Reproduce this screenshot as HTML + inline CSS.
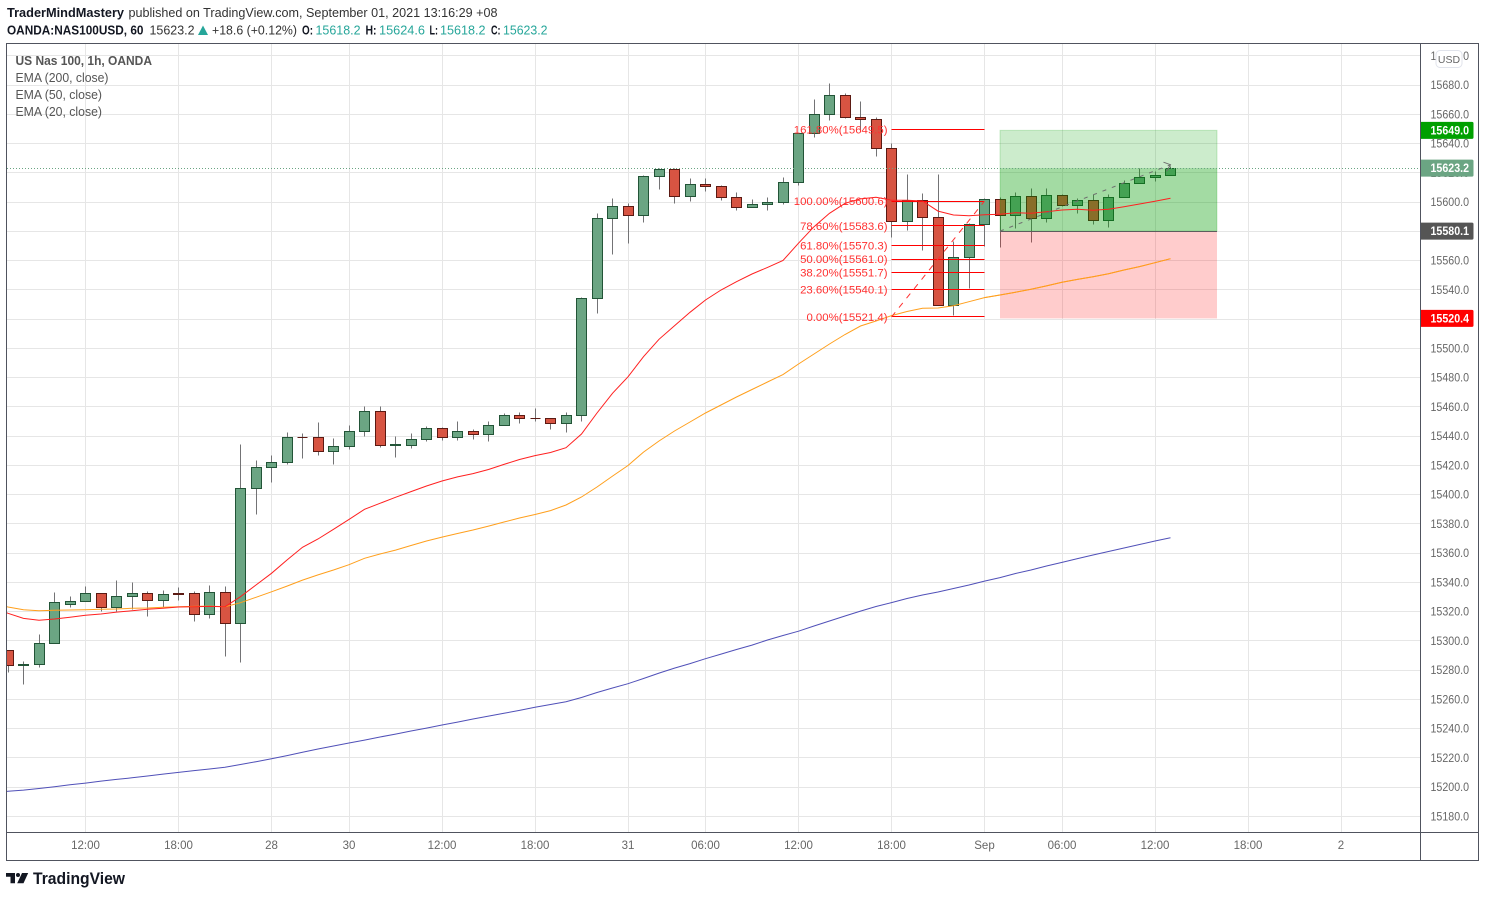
<!DOCTYPE html>
<html lang="en">
<head>
<meta charset="utf-8">
<title>US Nas 100 1h chart</title>
<style>
html,body{margin:0;padding:0;background:#fff;width:1485px;height:897px;overflow:hidden}
svg{display:block;font-family:"Liberation Sans",sans-serif}
</style>
</head>
<body>
<svg id="chart" xmlns="http://www.w3.org/2000/svg" width="1485" height="897" viewBox="0 0 1485 897">
  <defs><clipPath id="pane"><rect x="7" y="44" width="1413" height="788"/></clipPath></defs>
  <rect x="0" y="0" width="1485" height="897" fill="#fff"/>

  <g font-size="13">
    <text x="7" y="17" font-weight="bold" fill="#131722" textLength="117" lengthAdjust="spacingAndGlyphs">TraderMindMastery</text>
    <text x="128.5" y="17" fill="#333" textLength="369" lengthAdjust="spacingAndGlyphs">published on TradingView.com, September 01, 2021 13:16:29 +08</text>
    <text x="7" y="34.5" font-weight="bold" fill="#131722" textLength="136.5" lengthAdjust="spacingAndGlyphs">OANDA:NAS100USD, 60</text>
    <text x="149.5" y="34.5" fill="#333" textLength="45" lengthAdjust="spacingAndGlyphs">15623.2</text>
    <polygon points="198,35 208,35 203,25.5" fill="#26a69a"/>
    <text x="212" y="34.5" fill="#333" textLength="85" lengthAdjust="spacingAndGlyphs">+18.6 (+0.12%)</text>
    <text x="302" y="34.5" font-weight="bold" fill="#131722" textLength="11" lengthAdjust="spacingAndGlyphs">O:</text>
    <text x="315.5" y="34.5" fill="#26a69a" textLength="45" lengthAdjust="spacingAndGlyphs">15618.2</text>
    <text x="365.5" y="34.5" font-weight="bold" fill="#131722" textLength="11" lengthAdjust="spacingAndGlyphs">H:</text>
    <text x="379" y="34.5" fill="#26a69a" textLength="46" lengthAdjust="spacingAndGlyphs">15624.6</text>
    <text x="429.5" y="34.5" font-weight="bold" fill="#131722" textLength="8.5" lengthAdjust="spacingAndGlyphs">L:</text>
    <text x="440" y="34.5" fill="#26a69a" textLength="45.5" lengthAdjust="spacingAndGlyphs">15618.2</text>
    <text x="491" y="34.5" font-weight="bold" fill="#131722" textLength="9.5" lengthAdjust="spacingAndGlyphs">C:</text>
    <text x="503" y="34.5" fill="#26a69a" textLength="44.5" lengthAdjust="spacingAndGlyphs">15623.2</text>
  </g>

  <g id="grid"></g>
  <g id="candles" clip-path="url(#pane)"></g>
  <g id="emas" clip-path="url(#pane)"></g>
  <g id="fib" clip-path="url(#pane)"></g>
  <g id="position" clip-path="url(#pane)"></g>

  <g font-size="12.5" fill="#555">
    <text x="15.5" y="65" font-weight="bold" textLength="136.5" lengthAdjust="spacingAndGlyphs">US Nas 100, 1h, OANDA</text>
    <text x="15.5" y="82" textLength="93" lengthAdjust="spacingAndGlyphs">EMA (200, close)</text>
    <text x="15.5" y="99" textLength="86.5" lengthAdjust="spacingAndGlyphs">EMA (50, close)</text>
    <text x="15.5" y="116" textLength="86.5" lengthAdjust="spacingAndGlyphs">EMA (20, close)</text>
  </g>

  <g fill="none" stroke="#50535e" stroke-width="1" shape-rendering="crispEdges">
    <rect x="6.5" y="43.5" width="1472" height="817"/>
    <line x1="6.5" y1="832.5" x2="1478.5" y2="832.5"/>
    <line x1="1420.5" y1="43.5" x2="1420.5" y2="860.5"/>
  </g>

  <g id="yaxis"></g>
  <g id="xaxis"></g>
  <g id="tags"></g>

  <g>
    <rect x="1436" y="50.5" width="26" height="17" rx="4" fill="#fff" stroke="#e0e3eb"/>
    <text x="1449" y="63" text-anchor="middle" font-size="10.5" fill="#666">USD</text>
  </g>

  <g>
    <path d="M6 873H15V883.2H10.5V876.8H6Z" fill="#131722"/>
    <circle cx="18" cy="875" r="2" fill="#131722"/>
    <polygon points="22,873 28.2,873 23.5,883.2 17.2,883.2" fill="#131722"/>
    <text x="33" y="884" font-size="16.5" font-weight="bold" fill="#131722" textLength="92" lengthAdjust="spacingAndGlyphs">TradingView</text>
  </g>
</svg>

<script>
const opens = [15293,15283.4,15284,15298,15324.5,15327,15332,15323,15330,15332.4,15327.6,15332,15332,15318,15333,15312,15404,15418.6,15422,15439,15439,15429.5,15433,15443.2,15457,15433.6,15433.6,15437.7,15445.3,15439,15443.2,15441.2,15447.3,15454,15452,15452,15448.4,15454,15534.2,15588.9,15597.1,15590.9,15617.6,15622.4,15603.9,15612,15610.7,15603.2,15596.4,15598.4,15599.8,15613.5,15647,15660,15673,15658,15656.6,15636.7,15586.8,15601.2,15589.5,15529.4,15562.2,15584.8,15601.8,15590.9,15603.9,15588.9,15604.6,15597.7,15601.2,15587.5,15603.2,15612.8,15616.9,15618.2];
const highs = [15293.5,15285.5,15304,15333,15330,15337.4,15332,15341.5,15339.5,15334,15334.7,15336.7,15334,15338,15337.4,15434,15423,15427,15442.7,15441.4,15449,15438,15447,15460.5,15460,15440,15442,15446.4,15445.5,15449.6,15444.6,15450.2,15455.7,15456.2,15459,15452.2,15456.2,15535,15592.3,15602.5,15599,15617.8,15622.6,15622.6,15616.4,15616.4,15611.6,15606.8,15601.8,15603.2,15616.6,15647,15670.4,15681.2,15674.5,15669,15658,15640,15619,15605.5,15619,15573,15585,15602.7,15603,15606.8,15608.9,15608.9,15605,15602.5,15604.8,15604.8,15614.8,15622.6,15620.7,15624.6];
const lows = [15278,15270.4,15282,15298,15323,15327,15320,15320,15321.7,15316.4,15322.4,15327.4,15313,15315,15289,15285,15386,15408,15420.4,15424.5,15426.5,15420.4,15430.6,15440,15432,15425,15431.3,15436,15436.8,15436.8,15437.5,15436,15447,15448.4,15449.8,15444.3,15442.2,15449.8,15523.6,15564,15571.5,15585.8,15608.4,15598.8,15600.2,15607,15600.9,15594.1,15596.3,15594.1,15598.6,15611.1,15644,15655.6,15657,15649.2,15631,15576,15580.4,15566.7,15529,15522.3,15541,15569.4,15568.7,15581.7,15572.2,15585.8,15596.6,15592,15584.5,15582.4,15603,15612.8,15613.9,15618.2];
const closes = [15283.4,15284,15297.8,15326,15327,15332,15323,15330.4,15332.4,15327.6,15331.8,15331.6,15318,15333.1,15312,15404.2,15418.6,15422,15439,15438.7,15429.5,15433,15443.2,15457,15433.6,15434,15437.7,15445.3,15439,15443.2,15441.2,15447.3,15454.1,15452,15451.7,15448.4,15454.1,15534.2,15588.9,15597.1,15590.9,15617.6,15622.4,15603.9,15612.1,15610.7,15603.2,15596.4,15598.4,15599.8,15613.5,15647,15660,15673,15657.9,15656.6,15636.7,15586.8,15601.2,15589.5,15529.4,15562.2,15584.8,15601.8,15590.9,15603.9,15588.9,15604.6,15597.7,15601.2,15587.5,15603.2,15612.8,15616.9,15618.3,15623.2];

// EMA arrays begin one hour before the first candle (that point sits left of the pane)
const ema20 = [15323.1,15318.8,15315.3,15314,15314.9,15316,15317.4,15318.3,15319.6,15320.5,15321.5,15322.2,15323.1,15323.3,15323.5,15323.3,15330.1,15338.1,15346.1,15355.2,15363.9,15369.6,15376.2,15383,15389.9,15394,15398.1,15402,15405.8,15409.2,15412,15414.3,15417.1,15420.6,15423.9,15426.6,15428.7,15432,15441.4,15455.7,15469.2,15480.5,15494.2,15506.1,15515.4,15524.6,15533,15539.8,15545.5,15550.8,15555.3,15560,15571.8,15583.1,15592.3,15599.1,15602.1,15603.2,15601.2,15601.2,15600.7,15593.8,15591.1,15590.6,15591.3,15591.6,15592.7,15592.3,15593.4,15594.5,15595,15594.3,15595,15596.8,15598.6,15600.5,15602.5];
const ema50 = [15325.8,15323.1,15321.2,15320.5,15320.8,15321,15321.2,15321.5,15321.7,15322.2,15322.4,15322.9,15323.3,15323.5,15323.7,15323.3,15326,15329.7,15333.5,15337.4,15341.5,15345,15348.4,15352,15356.4,15359.3,15362,15365.1,15368.2,15370.9,15373.3,15375.7,15378.4,15381.2,15383.9,15386.3,15389,15392.8,15398.3,15405.1,15412.6,15419.8,15429,15436.6,15443.4,15449.6,15455.7,15461.2,15466.7,15471.8,15476.9,15482,15489.2,15496.1,15502.9,15509.4,15515.2,15518.6,15522.3,15525.1,15527.3,15527.5,15529.1,15531.8,15534.6,15536.4,15538.3,15540.3,15542.6,15545.1,15547.1,15548.9,15551,15553.5,15555.8,15558.5,15561.2];
const ema200 = [15195.9,15197.1,15197.9,15199,15200.2,15201.5,15202.7,15204,15205.2,15206.3,15207.5,15208.8,15210,15211.2,15212.3,15213.5,15215.4,15217.3,15219.3,15221.5,15223.7,15226,15228,15230.1,15232.1,15234.2,15236.2,15238.3,15240.3,15242.4,15244.4,15246.5,15248.5,15250.4,15252.4,15254.5,15256.4,15258.3,15261.2,15264.6,15267.7,15270.6,15274.2,15277.9,15281.3,15284.4,15287.7,15290.9,15294,15297,15300.5,15303.6,15306.5,15310.1,15313.5,15316.9,15320.3,15323.4,15326.1,15328.9,15331.3,15333.3,15335.7,15338.1,15340.8,15343.2,15346,15348.4,15351.1,15353.6,15356.2,15358.6,15361,15363.4,15365.8,15368.2,15370.4];

const priceTicks = [15180,15200,15220,15240,15260,15280,15300,15320,15340,15360,15380,15400,15420,15440,15460,15480,15500,15520,15540,15560,15580,15600,15620,15640,15660,15680,15700];
const timeLabels = ["12:00","18:00","28","30","12:00","18:00","31","06:00","12:00","18:00","Sep","06:00","12:00","18:00","2"];
const timeBars = [5,11,17,22,28,34,40,45,51,57,63,68,74,80,86];

const fibRatios = ["161.80","100.00","78.60","61.80","50.00","38.20","23.60","0.00"];
const fibPrices = [15649.5,15600.6,15583.6,15570.3,15561.0,15551.7,15540.1,15521.4];
const fibBars = [57,63];

const positionBars = [64,78];
const positionPrices = [15649.0,15580.1,15520.4];
const lastPrice = 15623.2;
const tradePathBars = [64,75];
const tradePathPrices = [15580.1,15625.5];

const tagPrices = [15649.0,15623.2,15580.1,15520.4];
const tagColors = ["#00a000","#6ba583","#555555","#ff0000"];

const NS = "http://www.w3.org/2000/svg";
const xScale = i => 8 + 15.5 * i;
const yScale = v => 202 + (15600 - v) * 1.4625;
const crisp = v => Math.floor(v) + 0.5;

function make(tag, attrs, parent) {
  const el = document.createElementNS(NS, tag);
  for (const k in attrs) el.setAttribute(k, attrs[k]);
  parent.appendChild(el);
  return el;
}

const grid = document.getElementById("grid");
const yaxis = document.getElementById("yaxis");
const xaxis = document.getElementById("xaxis");
const candles = document.getElementById("candles");
const emas = document.getElementById("emas");
const fib = document.getElementById("fib");
const position = document.getElementById("position");
const tags = document.getElementById("tags");

priceTicks.forEach(function (p) {
  const y = crisp(yScale(p));
  const line = make("line", {x1: 7, y1: y, x2: 1420, y2: y, stroke: "#e6e6e6", "shape-rendering": "crispEdges"}, grid);
  
  
  const t = make("text", {x: 1430.5, y: yScale(p) + 4, "font-size": 11.5, fill: "#666", textLength: 38.5, lengthAdjust: "spacingAndGlyphs"}, yaxis);
  t.textContent = p.toFixed(1);
  
  
});

timeBars.forEach(function (b, i) {
  const x = crisp(xScale(b));
  const line = make("line", {x1: x, y1: 44, x2: x, y2: 832, stroke: "#e6e6e6", "shape-rendering": "crispEdges"}, grid);
  
  
  const t = make("text", {x: xScale(b), y: 849, "text-anchor": "middle", "font-size": 11.5, fill: "#666"}, xaxis);
  t.textContent = timeLabels[i];
  
  
});

opens.forEach(function (o, i) {
  const c = closes[i];
  const up = c >= o;
  const x = crisp(xScale(i));
  const wick = make("line", {x1: x, y1: crisp(yScale(highs[i])), x2: x, y2: crisp(yScale(lows[i])), stroke: "#737375", "shape-rendering": "crispEdges"}, candles);
  
  
  const top = crisp(yScale(Math.max(o, c)));
  const bottom = crisp(yScale(Math.min(o, c)));
  const border = up ? "#225437" : "#5b1a13";
  if (bottom - top < 1) {
    const doji = make("line", {x1: x - 5, y1: top, x2: x + 5, y2: top, stroke: border, "shape-rendering": "crispEdges"}, candles);
    
    
  } else {
    const body = make("rect", {x: x - 5, y: top, width: 10, height: bottom - top, fill: up ? "#6ba583" : "#d75442", stroke: border, "shape-rendering": "crispEdges"}, candles);
    
    
  }
});

function emaPoints(values, firstBar) {
  return values.map((v, i) => xScale(firstBar + i).toFixed(1) + "," + yScale(v).toFixed(1)).join(" ");
}
const ema200Line = make("polyline", {points: emaPoints(ema200, -1), fill: "none", stroke: "#5050b8", "stroke-width": 1}, emas);


const ema50Line = make("polyline", {points: emaPoints(ema50, -1), fill: "none", stroke: "#ff9f1c", "stroke-width": 1}, emas);



fibPrices.forEach(function (p, i) {
  const y = crisp(yScale(p));
  const line = make("line", {x1: xScale(fibBars[0]), y1: y, x2: xScale(fibBars[1]), y2: y, stroke: "#ff0000", "shape-rendering": "crispEdges"}, fib);
  
  
  const t = make("text", {x: xScale(fibBars[0]) - 4, y: yScale(p) + 4, "text-anchor": "end", "font-size": 11.4, fill: "#ff3030"}, fib);
  t.textContent = fibRatios[i] + "%(" + p.toFixed(1) + ")";
  
  
});
const fibTrend = make("line", {x1: xScale(fibBars[0]), y1: yScale(fibPrices[7]), x2: xScale(fibBars[1]), y2: yScale(fibPrices[1]), stroke: "#ff3030", "stroke-dasharray": "6 6"}, fib);



const boxLeft = xScale(positionBars[0]);
const boxWidth = xScale(positionBars[1]) - boxLeft;
const targetBox = make("rect", {x: boxLeft, y: yScale(positionPrices[0]), width: boxWidth, height: yScale(positionPrices[1]) - yScale(positionPrices[0]), fill: "rgba(0,160,0,0.2)", stroke: "rgba(0,160,0,0.2)"}, position);


const runningBox = make("rect", {x: boxLeft, y: yScale(lastPrice), width: boxWidth, height: yScale(positionPrices[1]) - yScale(lastPrice), fill: "rgba(0,155,0,0.2)"}, position);


const stopBox = make("rect", {x: boxLeft, y: yScale(positionPrices[1]), width: boxWidth, height: yScale(positionPrices[2]) - yScale(positionPrices[1]), fill: "rgba(255,0,0,0.2)"}, position);


const entryY = crisp(yScale(positionPrices[1]));
const entryLine = make("line", {x1: boxLeft, y1: entryY, x2: boxLeft + boxWidth, y2: entryY, stroke: "#5d5d5d", "shape-rendering": "crispEdges"}, position);



const lastY = crisp(yScale(lastPrice));
const lastLine = make("line", {x1: 7, y1: lastY, x2: 1420, y2: lastY, stroke: "#6ba583", "stroke-dasharray": "1 2", "shape-rendering": "crispEdges"}, position);



const ema20Line = make("polyline", {points: emaPoints(ema20, -1), fill: "none", stroke: "#ff2020", "stroke-width": 1}, position);


const ema50Front = make("polyline", {points: emaPoints(ema50.slice(-13), ema50.length - 14), fill: "none", stroke: "#ff9f1c", "stroke-width": 1}, position);



const tx1 = xScale(tradePathBars[0]);
const ty1 = yScale(tradePathPrices[0]);
const tx2 = xScale(tradePathBars[1]);
const ty2 = yScale(tradePathPrices[1]);
const tradePath = make("line", {x1: tx1, y1: ty1, x2: tx2, y2: ty2, stroke: "#6e6e6e", "stroke-dasharray": "4 6"}, position);


const arrowHead = make("polyline", {points: (tx2 - 7) + "," + (ty2 - 2.5) + " " + tx2 + "," + ty2 + " " + (tx2 - 4) + "," + (ty2 + 6.5), fill: "none", stroke: "#6e6e6e"}, position);



tagPrices.forEach(function (p, i) {
  const y = yScale(p);
  const box = make("path", {d: "M1421 " + (y - 8.5) + "H1472a1.5 1.5 0 0 1 1.5 1.5V" + (y + 7) + "a1.5 1.5 0 0 1 -1.5 1.5H1421Z", fill: tagColors[i]}, tags);
  
  
  const t = make("text", {x: 1430.5, y: y + 4, "font-size": 11.5, "font-weight": "bold", fill: "#fff", textLength: 38.5, lengthAdjust: "spacingAndGlyphs"}, tags);
  t.textContent = p.toFixed(1);
  
  
});
</script>
</body>
</html>
